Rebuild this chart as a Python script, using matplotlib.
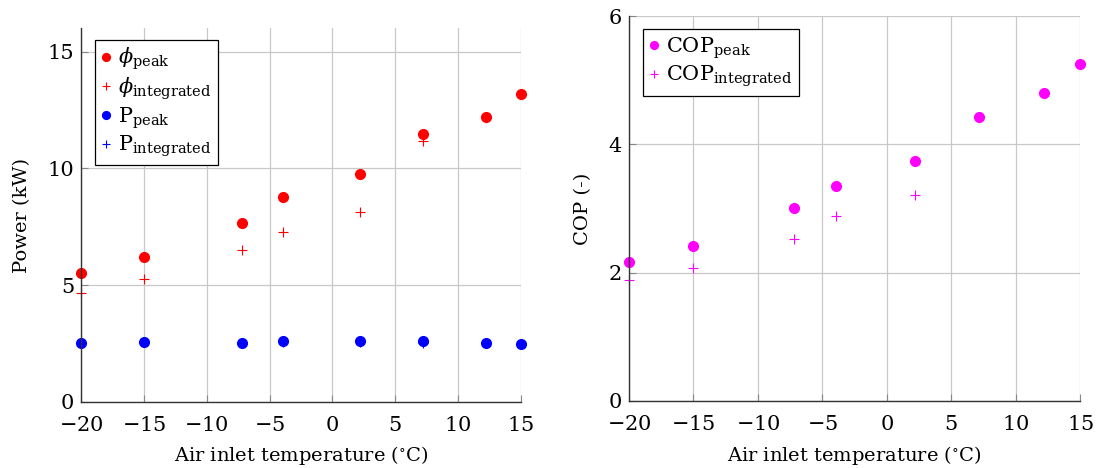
import matplotlib
matplotlib.use('Agg')
import matplotlib.pyplot as plt

# air inlet temperatures (degC)
temp = [-20, -15, -7.2, -3.9, 2.2, 7.2, 12.2, 15]
temp_int = [-20, -15, -7.2, -3.9, 2.2, 7.2]

# power (kW)
phi_peak = [5.50, 6.21, 7.66, 8.76, 9.77, 11.47, 12.19, 13.17]
phi_int = [4.64, 5.26, 6.49, 7.26, 8.11, 11.16]
p_peak = [2.50, 2.54, 2.50, 2.61, 2.61, 2.58, 2.50, 2.48]
p_int = [2.50, 2.54, 2.50, 2.55, 2.55, 2.53]

# COP (-)
cop_peak = [2.17, 2.42, 3.00, 3.35, 3.74, 4.42, 4.80, 5.25]
cop_int = [1.88, 2.08, 2.52, 2.88, 3.21]
temp_cop_int = [-20, -15, -7.2, -3.9, 2.2]

plt.rcParams['font.family'] = 'DejaVu Serif'
plt.rcParams['mathtext.fontset'] = 'dejavuserif'

fig = plt.figure(figsize=(10.97, 4.68), dpi=100)
ax1 = fig.add_axes([0.0738, 0.1417, 0.4011, 0.7976])
ax2 = fig.add_axes([0.5734, 0.1432, 0.4111, 0.8226])

grid_col = '#c8c8c8'
dot = dict(marker='o', linestyle='none', markersize=7)
plus = dict(marker='+', linestyle='none', markersize=7, markeredgewidth=0.8)


def style(ax, yticks, ylim):
    ax.set_xlim(-20, 15)
    ax.set_ylim(*ylim)
    ax.set_xticks([-20, -15, -10, -5, 0, 5, 10, 15])
    ax.set_xticklabels([r'$-20$', r'$-15$', r'$-10$', r'$-5$', r'$0$', r'$5$', r'$10$', r'$15$'])
    ax.set_yticks(yticks)
    ax.grid(True, color=grid_col, linewidth=0.9)
    ax.set_axisbelow(True)
    for s in ['top', 'right']:
        ax.spines[s].set_visible(False)
    for s in ['left', 'bottom']:
        ax.spines[s].set_color('#333333')
        ax.spines[s].set_linewidth(1.0)
    ax.tick_params(direction='in', length=5, color='#888888', labelsize=15)
    ax.tick_params(axis='x', pad=10)
    ax.tick_params(axis='y', pad=5)
    ax.set_xlabel(r'Air inlet temperature ($^{\circ}$C)', fontsize=14, labelpad=7)


ax1.plot(temp, phi_peak, color='red', label=r'$\phi_{\mathrm{peak}}$', clip_on=False, **dot)
ax1.plot(temp_int, phi_int, color='red', label=r'$\phi_{\mathrm{integrated}}$', clip_on=False, **plus)
ax1.plot(temp, p_peak, color='blue', label=r'$\mathrm{P}_{\mathrm{peak}}$', clip_on=False, **dot)
ax1.plot(temp_int, p_int, color='blue', label=r'$\mathrm{P}_{\mathrm{integrated}}$', clip_on=False, **plus)
style(ax1, [0, 5, 10, 15], (0, 16))
ax1.set_ylabel('Power (kW)', fontsize=14, labelpad=12)

ax2.plot(temp, cop_peak, color='magenta', label=r'$\mathrm{COP}_{\mathrm{peak}}$', clip_on=False, **dot)
ax2.plot(temp_cop_int, cop_int, color='magenta', label=r'$\mathrm{COP}_{\mathrm{integrated}}$', clip_on=False, **plus)
style(ax2, [0, 2, 4, 6], (0, 6))
ax2.set_ylabel('COP (-)', fontsize=14, labelpad=12)

for ax, anchor in [(ax1, (0.032, 0.97)), (ax2, (0.031, 0.966))]:
    leg = ax.legend(loc='upper left', bbox_to_anchor=anchor, borderaxespad=0,
                    fontsize=15, handlelength=0.5, handletextpad=0.3,
                    labelspacing=0.15, borderpad=0.3, fancybox=False,
                    framealpha=1, edgecolor='black', markerscale=0.8)
    leg.get_frame().set_linewidth(0.9)

fig.savefig('out.png', dpi=100)
